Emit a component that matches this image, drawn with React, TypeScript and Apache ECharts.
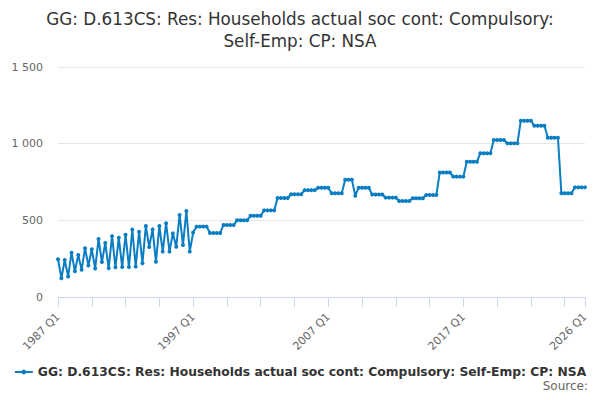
import React, { useEffect, useRef } from "react";
import * as echarts from "echarts";

const startYear = 1987;
const endYear = 2026;
const categories: string[] = [];
for (let y = startYear; y <= endYear; y++) {
  for (let q = 1; q <= 4; q++) {
    if (y === endYear && q > 1) break;
    categories.push(`${y} Q${q}`);
  }
}

// 1987 Q1 – 1997 Q1 (seasonal zigzag)
const values1987to1997: number[] = [
  246, 122, 241, 133, 289, 168, 274, 178, 318, 205,
  311, 186, 378, 228, 352, 187, 397, 194, 386, 195,
  406, 195, 440, 198, 426, 220, 463, 326, 441, 230,
  463, 296, 481, 296, 415, 328, 535, 339, 561, 296,
  420,
];

// 1997 Q2 – 2026 Q1
const values1997to2026: number[] = [
  459, 459, 459, 459,
  418, 418, 418, 418,
  470, 470, 470, 470,
  500, 500, 500, 500,
  530, 530, 530, 530,
  565, 565, 565, 565,
  646, 646, 646, 646,
  670, 670, 670, 670,
  697, 697, 697, 697,
  712, 712, 712, 712,
  676, 676, 676, 676,
  764, 764, 764, 661,
  713, 713, 713, 713,
  668, 668, 668, 668,
  648, 648, 648, 648,
  626, 626, 626, 626,
  644, 644, 644, 644,
  665, 665, 665, 665,
  812, 812, 812, 812,
  785, 785, 785, 785,
  882, 882, 882, 882,
  937, 937, 937, 937,
  1024, 1024, 1024, 1024,
  1002, 1002, 1002, 1002,
  1150, 1150, 1150, 1150,
  1117, 1117, 1117, 1117,
  1039, 1039, 1039, 1039,
  677, 677, 677, 677,
  715, 715, 715, 715,
];

const seriesValues: number[] = [...values1987to1997, ...values1997to2026];

const titleText = "GG: D.613CS: Res: Households actual soc cont: Compulsory:\nSelf-Emp: CP: NSA";
const seriesName = "GG: D.613CS: Res: Households actual soc cont: Compulsory: Self-Emp: CP: NSA";

const FONT = "DejaVu Sans";
const lastIndex = categories.length - 1;

export default function App() {
  const ref = useRef<HTMLDivElement>(null);
  useEffect(() => {
    if (!ref.current) return;
    const chart = echarts.init(ref.current, undefined, { renderer: "svg" });
    chart.setOption({
      animation: false,
      title: {
        text: titleText,
        left: "center",
        top: 3,
        textStyle: {
          fontFamily: FONT,
          fontSize: 16.8,
          fontWeight: "normal",
          color: "#333333",
          lineHeight: 22,
        },
      },
      legend: {
        bottom: 17,
        left: "center",
        itemWidth: 18,
        itemHeight: 6,
        itemGap: 4,
        textStyle: {
          fontFamily: FONT,
          fontSize: 12.3,
          fontWeight: "bold",
          color: "#333333",
        },
        data: [seriesName],
      },
      graphic: [
        {
          type: "text",
          x: 588,
          y: 380,
          style: {
            text: "Source:",
            fontFamily: FONT,
            fontSize: 12,
            fill: "#666666",
            align: "right",
            verticalAlign: "top",
          },
        },
      ],
      grid: {
        left: 58,
        right: 15,
        top: 67,
        bottom: 103,
        containLabel: false,
      },
      xAxis: {
        type: "category",
        data: categories,
        boundaryGap: false,
        axisLine: { lineStyle: { color: "#ccd6eb" } },
        axisTick: {
          length: 10,
          lineStyle: { color: "#ccd6eb" },
          interval: (i: number) => i % 10 === 0 || i === lastIndex,
        },
        axisLabel: {
          rotate: 45,
          margin: 18,
          fontFamily: FONT,
          fontSize: 11,
          color: "#666666",
          interval: (i: number) => i % 40 === 0 || i === lastIndex,
        },
        splitLine: { show: false },
      },
      yAxis: {
        type: "value",
        min: 0,
        max: 1500,
        interval: 500,
        axisLine: { show: false },
        axisTick: { show: false },
        splitLine: { lineStyle: { color: "#e6e6e6" } },
        axisLabel: {
          margin: 15,
          fontFamily: FONT,
          fontSize: 11,
          color: "#666666",
          formatter: (v: number) => (v >= 1000 ? `${Math.floor(v / 1000)} ${String(v % 1000).padStart(3, "0")}` : `${v}`),
        },
      },
      series: [
        {
          name: seriesName,
          type: "line",
          data: seriesValues,
          color: "#0a7dc3",
          lineStyle: { width: 2, color: "#0a7dc3" },
          symbol: "circle",
          symbolSize: 4,
          showSymbol: true,
          showAllSymbol: true,
          itemStyle: { color: "#0a7dc3" },
        },
      ],
    });
    return () => chart.dispose();
  }, []);
  return <div ref={ref} style={{ width: 600, height: 400, margin: -8 }} />;
}
